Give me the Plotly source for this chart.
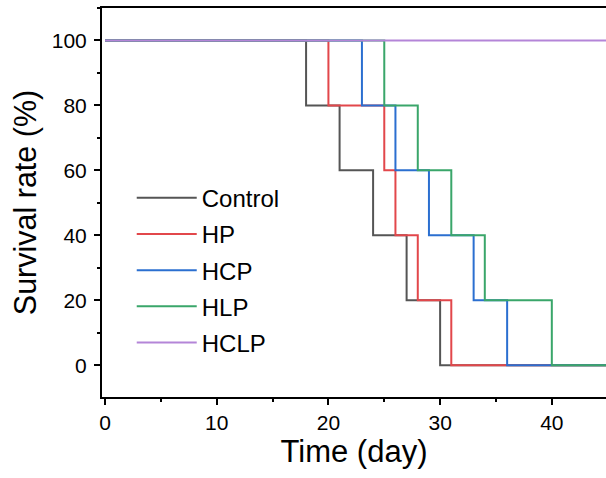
import plotly.graph_objects as go

# Survival data: days at which each step occurs and survival rate (%) after it
groups = ["Control", "HP", "HCP", "HLP", "HCLP"]
colors = ["#555555", "#e2474b", "#2b6fd0", "#3aa66a", "#b485d8"]

control_days = [0, 18, 21, 24, 27, 30, 46]
control_surv = [100, 80, 60, 40, 20, 0, 0]

hp_days = [0, 20, 25, 26, 28, 31, 46]
hp_surv = [100, 80, 60, 40, 20, 0, 0]

hcp_days = [0, 23, 26, 29, 33, 36, 46]
hcp_surv = [100, 80, 60, 40, 20, 0, 0]

hlp_days = [0, 25, 28, 31, 34, 40, 46]
hlp_surv = [100, 80, 60, 40, 20, 0, 0]

hclp_days = [0, 46]
hclp_surv = [100, 100]

x_tick_vals = [0, 10, 20, 30, 40]
y_tick_vals = [0, 20, 40, 60, 80, 100]

all_days = [control_days, hp_days, hcp_days, hlp_days, hclp_days]
all_surv = [control_surv, hp_surv, hcp_surv, hlp_surv, hclp_surv]

FONT = "Liberation Sans, Arial, sans-serif"

fig = go.Figure()
for name, col, xd, yd in zip(groups, colors, all_days, all_surv):
    fig.add_trace(go.Scatter(
        x=xd, y=yd, mode="lines", name=name,
        line=dict(color=col, width=2, shape="hv"),
        legendgroup=name,
    ))

fig.update_layout(
    width=606, height=478,
    margin=dict(l=102, r=0, t=8, b=81),
    paper_bgcolor="white", plot_bgcolor="white",
    font=dict(family=FONT, color="black", size=21),
    showlegend=True,
    legend=dict(
        x=0.059, y=0.569, xanchor="left", yanchor="top",
        bgcolor="rgba(0,0,0,0)", borderwidth=0,
        font=dict(size=24, family=FONT, color="black"),
        itemwidth=60, traceorder="grouped", tracegroupgap=2,
    ),
)

fig.update_xaxes(
    range=[-0.27, 44.85], tickvals=x_tick_vals, automargin=False,
    showline=True, linecolor="black", linewidth=2, mirror=True,
    ticks="outside", ticklen=6, tickwidth=2, tickcolor="black",
    showgrid=False, zeroline=False,
    tickfont=dict(size=21, family=FONT, color="black"),
    minor=dict(dtick=5, tick0=0, ticks="outside", ticklen=3, tickwidth=2, tickcolor="black", showgrid=False),
    title=dict(text="Time (day)", font=dict(size=31, family=FONT, color="black"), standoff=6),
)
fig.update_yaxes(
    range=[-9.8, 110], tickvals=y_tick_vals, automargin=False,
    showline=True, linecolor="black", linewidth=2, mirror=False,
    ticks="outside", ticklen=6, tickwidth=2, tickcolor="black",
    showgrid=False, zeroline=False, ticklabelstandoff=3,
    tickfont=dict(size=21, family=FONT, color="black"),
    minor=dict(dtick=10, tick0=-10, ticks="outside", ticklen=3, tickwidth=2, tickcolor="black", showgrid=False),
    title=dict(text="Survival rate (%)", font=dict(size=30.5, family=FONT, color="black"), standoff=6),
)

fig.write_html(
    "out.html",
    config={"displayModeBar": False},
    post_script="document.body.style.margin='0';document.body.style.overflow='hidden';",
)
